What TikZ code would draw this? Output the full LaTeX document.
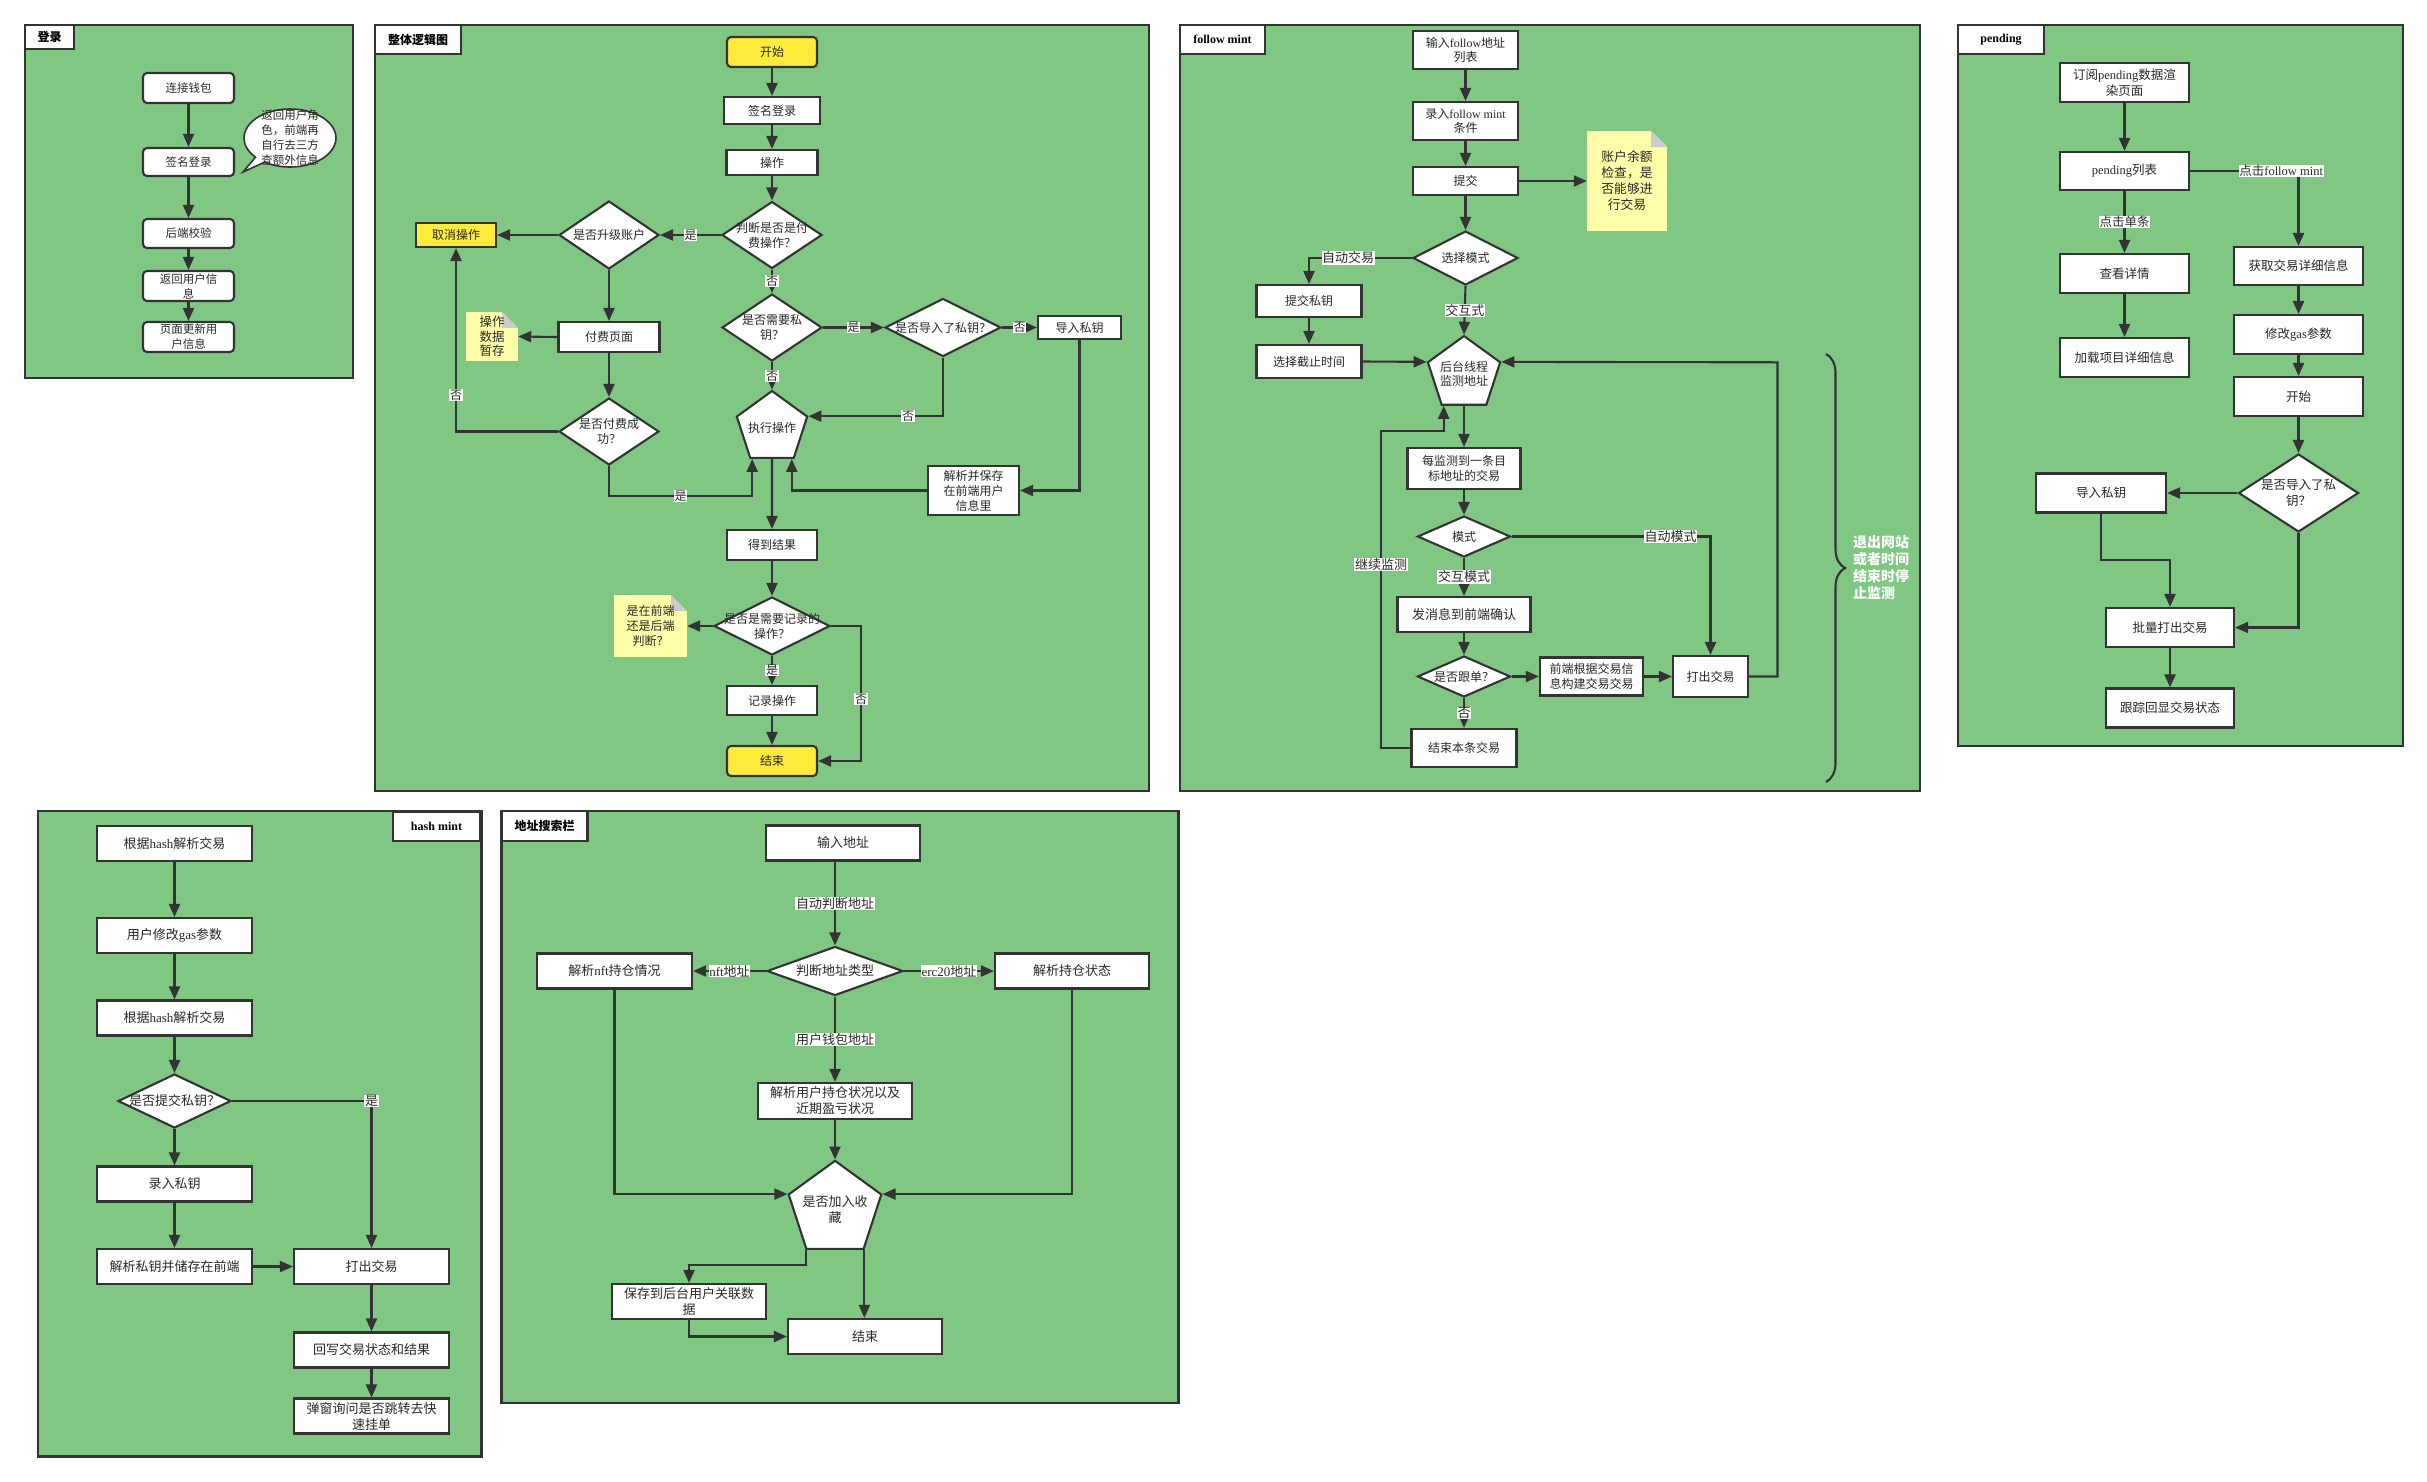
\documentclass[tikz,border=0pt]{standalone}
\usepackage{fontspec}
\setmainfont{Liberation Serif}
\newfontfamily\cjkf{Noto Sans CJK SC}
\usetikzlibrary{arrows.meta,shapes.geometric,shapes.callouts,calc,decorations.pathreplacing}

% CJK characters switch to the CJK family automatically, Latin text stays serif
\XeTeXinterchartokenstate=1
\newXeTeXintercharclass\CJKcls
\newcount\cjkidx
\def\setcjkrange#1#2{\cjkidx=#1\relax
  \loop\XeTeXcharclass\cjkidx=\CJKcls\relax
  \ifnum\cjkidx<#2\relax\advance\cjkidx by 1\relax\repeat}
\setcjkrange{"3000}{"303F}
\setcjkrange{"4E00}{"9FFF}
\setcjkrange{"FF00}{"FFEF}
\XeTeXinterchartoks 0 \CJKcls = {\cjkf}
\XeTeXinterchartoks 4095 \CJKcls = {\cjkf}
\XeTeXinterchartoks \CJKcls 0 = {\rmfamily}
\XeTeXinterchartoks \CJKcls 4095 = {\rmfamily}

\newcommand\fsz[2]{\fontsize{#1}{#2}\selectfont}

\definecolor{pgreen}{RGB}{128,199,131}
\definecolor{lc}{RGB}{51,51,51}
\definecolor{tc}{RGB}{40,40,40}
\definecolor{yel}{RGB}{255,235,59}
\definecolor{noteyel}{RGB}{255,255,170}
\definecolor{fold}{RGB}{204,204,204}

\tikzset{
  wh/.style 2 args={minimum width=#1, minimum height=#2},
  ln/.style={draw=lc, line width=2.1pt},
  arr/.style={ln, -{Triangle[length=13pt,width=11pt]}},
  box/.style={draw=lc, line width=2.1pt, fill=white, inner sep=0pt, align=center, text=tc},
  rbox/.style={box, rounded corners=4pt},
  ybox/.style={box, fill=yel},
  dia/.style={diamond, draw=lc, line width=2.1pt, fill=white, inner sep=0pt},
  pent/.style={regular polygon, regular polygon sides=5, draw=lc, line width=2.1pt, fill=white, inner sep=0pt},
  inl/.style={align=center, text=tc, inner sep=0pt},
  note/.style={fill=noteyel, inner sep=0pt, align=center, text=tc,
    path picture={
      \fill[pgreen] (path picture bounding box.north east) -- ++(-16pt,0pt) -- ++(16pt,-16pt) -- cycle;
      \fill[fold] (path picture bounding box.north east) ++(-16pt,0pt) -- ++(16pt,-16pt) -- ++(-16pt,0pt) -- cycle;
    }},
  elab/.style={fill=white, inner sep=0.6pt, text=tc},
  panel/.style={draw=lc, line width=2.1pt, fill=pgreen},
  ttl/.style={draw=lc, line width=2.1pt, fill=white, text=black, inner sep=0pt, font=\bfseries\fsz{12}{14}},
}

\begin{document}
\begin{tikzpicture}[x=1pt,y=-1pt]
\useasboundingbox (0,0) rectangle (2427,1481);
\fill[white] (0,0) rectangle (2427,1481);

% ---------------- login ----------------
\draw[panel] (25,25) rectangle (353,378);
\node[ttl, wh={49}{24}] (t1) at (49.5,37) {登录};
\begin{scope}[every node/.append style={font=\fsz{11.5}{15}}]
\node[rbox, wh={91}{30}] (l1) at (188.5,88) {连接钱包};
\node[rbox, wh={91}{28}] (l2) at (188.5,162) {签名登录};
\node[rbox, wh={91}{29}] (l3) at (188.5,233.5) {后端校验};
\node[rbox, wh={91}{30}] (l4) at (188.5,286) {返回用户信\\息};
\node[rbox, wh={91}{30}] (l5) at (188.5,337) {页面更新用\\户信息};
\node[ellipse callout, draw=lc, line width=1.6pt, fill=white, inner sep=0pt, wh={92}{58},
  callout absolute pointer={(243,172)},
  label={[inl]center:返回用户角\\色，前端再\\自行去三方\\查额外信息}] (l6) at (290,138) {};
\end{scope}
\draw[arr] (l1.south) -- (l2.north);
\draw[arr] (l2.south) -- (l3.north);
\draw[arr] (l3.south) -- (l4.north);
\draw[arr] (l4.south) -- (l5.north);

% ---------------- overall logic ----------------
\draw[panel] (375,25) rectangle (1149,791);
\node[ttl, wh={86}{29}] (t2) at (418,39.5) {整体逻辑图};
\begin{scope}[every node/.append style={font=\fsz{12}{15}}]
\node[rbox, fill=yel, wh={90}{30}] (g0) at (772,52) {开始};
\node[box, wh={96}{27}] (g1) at (772,110.5) {签名登录};
\node[box, wh={91}{25}] (g2) at (772,162.5) {操作};
\node[dia, wh={100}{67}, label={[inl]center:判断是否是付\\费操作？}] (g3) at (772,235) {};
\node[dia, wh={100}{68}, label={[inl]center:是否升级账户}] (g4) at (609,235) {};
\node[ybox, wh={80}{24}] (g5) at (456,235) {取消操作};
\node[box, wh={101}{30}] (g6) at (609,337) {付费页面};
\node[note, wh={52}{49}, font=\fsz{12.5}{14.5}] (g7) at (492,336.5) {操作\\数据\\暂存};
\node[dia, wh={100}{67}, label={[inl]center:是否付费成\\功？}] (g8) at (609,431.5) {};
\node[dia, wh={100}{67}, label={[inl]center:是否需要私\\钥？}] (g9) at (772,327.5) {};
\node[dia, wh={116}{58}, label={[inl]center:是否导入了私钥？}] (g10) at (943,327.5) {};
\node[box, wh={83}{23}] (g11) at (1079.5,327.5) {导入私钥};
\node[pent, minimum size=74, label={[inl]center:执行操作}] (g12) at (772,428) {};
\node[box, wh={91}{49}] (g13) at (973.5,490.5) {解析并保存\\在前端用户\\信息里};
\node[box, wh={90}{30}] (g14) at (772,545) {得到结果};
\node[dia, wh={116}{58}, label={[inl]center:是否是需要记录的\\操作？}] (g15) at (772,626) {};
\node[note, wh={73}{62}] (g16) at (650.5,626) {是在前端\\还是后端\\判断？};
\node[box, wh={90}{29}] (g17) at (772,700.5) {记录操作};
\node[rbox, fill=yel, wh={90}{30}] (g18) at (772,761) {结束};

\draw[arr] (g0.south) -- (g1.north);
\draw[arr] (g1.south) -- (g2.north);
\draw[arr] (g2.south) -- (g3.north);
\draw[arr] (g3.west) -- node[elab]{是} (g4.east);
\draw[arr] (g4.west) -- (g5.east);
\draw[arr] (g4.south) -- (g6.north);
\draw[arr] (g6.west) -- (g7.east);
\draw[arr] (g6.south) -- (g8.north);
\draw[arr] (g8.west) -| node[elab, pos=0.6]{否} (g5.south);
\draw[arr] (g8.south) -- (609,496) -| node[elab, pos=0.25]{是} ($(g12.corner 3)!.06!(g12.corner 4)$);
\draw[arr] (g3.south) -- node[elab]{否} (g9.north);
\draw[arr] (g9.east) -- node[elab]{是} (g10.west);
\draw[arr] (g10.east) -- node[elab]{否} (g11.west);
\draw[arr] (g9.south) -- node[elab]{否} (g12.corner 1);
\draw[arr] (g10.south) |- node[elab, pos=0.63]{否} (g12.corner 5);
\draw[arr] (g11.south) |- (g13.east);
\draw[arr] (g13.west) -| ($(g12.corner 4)!.06!(g12.corner 3)$);
\draw[arr] ($(g12.corner 3)!.5!(g12.corner 4)$) -- (g14.north);
\draw[arr] (g14.south) -- (g15.north);
\draw[arr] (g15.west) -- (g16.east);
\draw[arr] (g15.south) -- node[elab]{是} (g17.north);
\draw[arr] (g17.south) -- (g18.north);
\draw[arr] (g15.east) -- (861,626) |- node[elab, pos=0.27]{否} (g18.east);
\end{scope}

% ---------------- follow mint ----------------
\draw[panel] (1180,25) rectangle (1920,791);
\node[ttl, wh={85}{29}] (t3) at (1222.5,39.5) {follow mint};
\begin{scope}[every node/.append style={font=\fsz{12}{14.5}}]
\node[box, wh={105}{38}] (f1) at (1465.5,50) {输入follow地址\\列表};
\node[box, wh={105}{38}] (f2) at (1465.5,121) {录入follow mint\\条件};
\node[box, wh={105}{28}] (f3) at (1465.5,181) {提交};
\node[note, wh={80}{100}, font=\fsz{12.8}{16}] (f4) at (1627,181) {账户余额\\检查，是\\否能够进\\行交易};
\node[dia, wh={105}{54}, label={[inl]center:选择模式}] (f5) at (1465.5,258) {};
\node[box, wh={105}{32}] (f6) at (1309,301) {提交私钥};
\node[box, wh={105}{33}] (f7) at (1309,361.5) {选择截止时间};
\node[pent, minimum size=76, label={[inl]center:后台线程\\监测地址}] (f8) at (1464,374) {};
\node[box, wh={113}{41}] (f9) at (1464,468.5) {每监测到一条目\\标地址的交易};
\node[dia, wh={93}{41}, label={[inl]center:模式}] (f10) at (1464,536.5) {};
\node[box, wh={133}{35}, font=\fsz{13}{16}] (f11) at (1464,614.5) {发消息到前端确认};
\node[dia, wh={93}{41}, label={[inl]center:是否跟单？}] (f12) at (1464,676.5) {};
\node[box, wh={103}{38}] (f13) at (1591.5,676.5) {前端根据交易信\\息构建交易交易};
\node[box, wh={75}{41}] (f14) at (1710.5,676.5) {打出交易};
\node[box, wh={105}{38}] (f15) at (1464,748) {结束本条交易};
\coordinate (f16) at (1777.5,362.3);
\node[font=\bfseries\fsz{14}{17}, text=white, align=left, inner sep=0pt] (f17) at (1881,568) {退出网站\\或者时间\\结束时停\\止监测};

\draw[arr] (f1.south) -- (f2.north);
\draw[arr] (f2.south) -- (f3.north);
\draw[arr] (f3.east) -- (f4.west);
\draw[arr] (f3.south) -- (f5.north);
\draw[arr] (f5.west) -| node[elab, pos=0.31, font=\fsz{13}{15}]{自动交易} (f6.north);
\draw[arr] (f6.south) -- (f7.north);
\draw[arr] (f7.east) -- (f8.corner 2);
\draw[arr] (f5.south) -- node[elab, font=\fsz{13}{15}]{交互式} (f8.corner 1);
\draw[arr] ($(f8.corner 3)!.5!(f8.corner 4)$) -- (f9.north);
\draw[arr] (f9.south) -- (f10.north);
\draw[arr] (f10.east) -| node[elab, pos=0.4, font=\fsz{13}{15}]{自动模式} (f14.north);
\draw[arr] (f10.south) -- node[elab, font=\fsz{13}{15}]{交互模式} (f11.north);
\draw[arr] (f11.south) -- (f12.north);
\draw[arr] (f12.east) -- (f13.west);
\draw[arr] (f13.east) -- (f14.west);
\draw[arr] (f12.south) -- node[elab, font=\fsz{13}{15}]{否} (f15.north);
\draw[arr] (f15.west) -| node[elab, pos=0.79, font=\fsz{13}{15}]{继续监测} (1381,431) -| ($(f8.corner 3)!.06!(f8.corner 4)$);
\draw[arr] (f14.east) -| (f16) -- (f8.corner 5);
\draw[ln, decorate, decoration={brace, amplitude=19pt}] (1826,354) -- (1826,782);
\end{scope}

% ---------------- pending ----------------
\draw[panel] (1958,25) rectangle (2403,746);
\node[ttl, wh={86}{29}] (t4) at (2001,39.5) {pending};
\begin{scope}[every node/.append style={font=\fsz{12.5}{16}}]
\node[box, wh={129}{39}] (p1) at (2124.5,82.5) {订阅pending数据渲\\染页面};
\node[box, wh={129}{38}] (p2) at (2124.5,171) {pending列表};
\node[box, wh={129}{39}] (p3) at (2124.5,273.5) {查看详情};
\node[box, wh={129}{39}] (p4) at (2124.5,357.5) {加载项目详细信息};
\node[box, wh={129}{38}] (p5) at (2298.5,266) {获取交易详细信息};
\node[box, wh={129}{39}] (p6) at (2298.5,334.5) {修改gas参数};
\node[box, wh={129}{39}] (p7) at (2298.5,396.5) {开始};
\node[dia, wh={120}{78}, label={[inl]center:是否导入了私\\钥？}] (p8) at (2298.5,493) {};
\node[box, wh={130}{39}] (p9) at (2101,493) {导入私钥};
\node[box, wh={128}{39}] (p10) at (2170,627.5) {批量打出交易};
\node[box, wh={128}{39}] (p11) at (2170,708) {跟踪回显交易状态};

\draw[arr] (p1.south) -- (p2.north);
\draw[arr] (p2.south) -- node[elab]{点击单条} (p3.north);
\draw[arr] (p3.south) -- (p4.north);
\draw[arr] (p2.east) -| node[elab, pos=0.42]{点击follow mint} (p5.north);
\draw[arr] (p5.south) -- (p6.north);
\draw[arr] (p6.south) -- (p7.north);
\draw[arr] (p7.south) -- (p8.north);
\draw[arr] (p8.west) -- (p9.east);
\draw[arr] (p9.south) -- (2101,560) -| (p10.north);
\draw[arr] (p8.south) |- (p10.east);
\draw[arr] (p10.south) -- (p11.north);
\end{scope}

% ---------------- hash mint ----------------
\draw[panel] (38,811) rectangle (481.5,1456.5);
\node[ttl, wh={87}{29}] (t5) at (436.5,826.5) {hash mint};
\begin{scope}[every node/.append style={font=\fsz{13}{16}}]
\node[box, wh={155}{35}] (h1) at (174.5,843.5) {根据hash解析交易};
\node[box, wh={155}{35}] (h2) at (174.5,935.5) {用户修改gas参数};
\node[box, wh={155}{35}] (h3) at (174.5,1018) {根据hash解析交易};
\node[dia, wh={113}{54}, label={[inl]center:是否提交私钥？}] (h4) at (174.5,1101) {};
\node[box, wh={155}{35}] (h5) at (174.5,1184) {录入私钥};
\node[box, wh={155}{35}] (h6) at (174.5,1266.5) {解析私钥并储存在前端};
\node[box, wh={155}{35}] (h7) at (371.5,1266.5) {打出交易};
\node[box, wh={155}{35}] (h8) at (371.5,1350) {回写交易状态和结果};
\node[box, wh={155}{35}] (h9) at (371.5,1416) {弹窗询问是否跳转去快\\速挂单};

\draw[arr] (h1.south) -- (h2.north);
\draw[arr] (h2.south) -- (h3.north);
\draw[arr] (h3.south) -- (h4.north);
\draw[arr] (h4.south) -- (h5.north);
\draw[arr] (h5.south) -- (h6.north);
\draw[arr] (h6.east) -- (h7.west);
\draw[arr] (h4.east) -| node[elab]{是} (h7.north);
\draw[arr] (h7.south) -- (h8.north);
\draw[arr] (h8.south) -- (h9.north);
\end{scope}

% ---------------- address search ----------------
\draw[panel] (501.5,811) rectangle (1178.5,1403);
\node[ttl, wh={86}{30}] (t6) at (544.5,826) {地址搜索栏};
\begin{scope}[every node/.append style={font=\fsz{13}{16}}]
\node[box, wh={154}{35}] (a1) at (843,843) {输入地址};
\node[dia, wh={136}{49}, label={[inl]center:判断地址类型}] (a2) at (835,971) {};
\node[box, wh={155}{35}] (a3) at (614.5,971) {解析nft持仓情况};
\node[box, wh={154}{35}] (a4) at (1072,971) {解析持仓状态};
\node[box, wh={154}{36}] (a5) at (835,1101) {解析用户持仓状况以及\\近期盈亏状况};
\node[pent, minimum size=97.4, label={[inl]center:是否加入收\\藏}] (a6) at (835,1209.5) {};
\node[box, wh={154}{35}] (a7) at (689,1301.5) {保存到后台用户关联数\\据};
\node[box, wh={154}{35}] (a8) at (865,1336.5) {结束};
\coordinate (a9) at (806.4,1265);

\draw[arr] (a1.south -| a2.north) -- node[elab]{自动判断地址} (a2.north);
\draw[arr] (a2.west) -- node[elab]{nft地址} (a3.east);
\draw[arr] (a2.east) -- node[elab]{erc20地址} (a4.west);
\draw[arr] (a2.south) -- node[elab]{用户钱包地址} (a5.north);
\draw[arr] (a5.south) -- (a6.corner 1);
\draw[arr] (a3.south) |- (a6.corner 2);
\draw[arr] (a4.south) |- (a6.corner 5);
\draw[arr] (a6.corner 3) -- (a6.corner 3 |- a9) -| (a7.north);
\draw[arr] (a6.corner 4) -- (a6.corner 4 |- a8.north);
\draw[arr] (a7.south) |- (a8.west);
\end{scope}
\end{tikzpicture}
\end{document}
